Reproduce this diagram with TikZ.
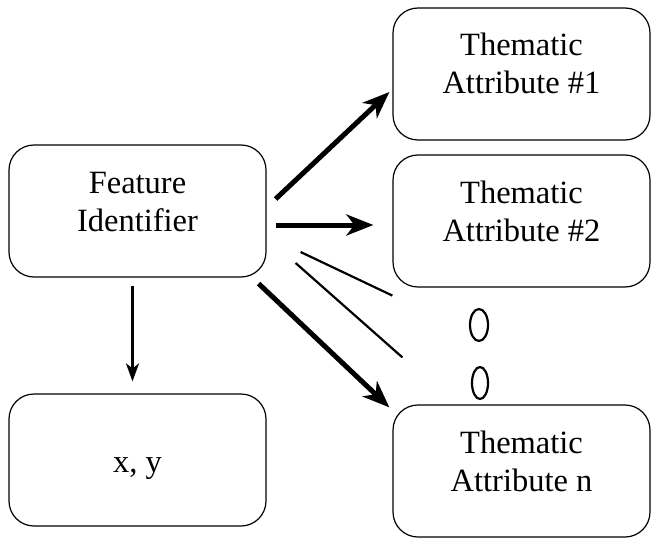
\documentclass[tikz,border=0pt]{standalone}
\usepackage{fontspec}
\setmainfont{Liberation Serif}
\usetikzlibrary{arrows.meta,shapes}
\tikzstyle{box}=[draw,rounded corners=25pt,minimum width=257pt,minimum height=132pt,inner sep=0pt,align=center,font=\fontsize{32.5}{38}\selectfont,line width=1.2pt,text height=60pt,text depth=20pt]
\tikzstyle{bigarrow}=[draw,line width=5pt,-{Stealth[length=27pt,width=21pt,inset=8pt]}]
\tikzstyle{link}=[draw,line width=2.2pt]
\tikzstyle{dot}=[draw,ellipse,line width=2.2pt,minimum width=16pt,minimum height=32pt,inner sep=0pt]

\begin{document}
\begin{tikzpicture}[x=1pt,y=-1pt]
    \useasboundingbox (0,0) rectangle (652,556);
    % First the boxes
    \foreach \pos/\name/\txt in {{(137.5,211)/fid/Feature\\Identifier}, {(521.5,74)/ta1/Thematic\\Attribute \#1}, {(521.5,221)/ta2/Thematic\\Attribute \#2}, {(521.5,471)/tan/Thematic\\Attribute n}}
        \node[box] (\name) at \pos {\txt};
    \node[box,text height=24pt,text depth=0pt] (xy) at (137.5,460) {x, y};

    % the two dots between #2 and n
    \node[dot,minimum width=18pt] (d1) at (479,325) {};
    \node[dot] (d2) at (480,383) {};

    % Then the arrows and lines
    \path[bigarrow] ([shift={(9,-12)}]fid.east) -- ([shift={(-3,18)}]ta1.west);
    \path[bigarrow] ([shift={(9,14)}]fid.east) -- ([shift={(-19,4)}]ta2.west);
    \path[link] ([shift={(34,41)}]fid.east) -- ([shift={(0,8)}]ta2.south west);
    \path[link] ([shift={(29,52)}]fid.east) -- ([shift={(10,-47)}]tan.north west);
    \path[bigarrow] ([shift={(-8,6)}]fid.south east) -- ([shift={(-3,3)}]tan.north west);
    \path[draw,line width=2.5pt,-{Stealth[length=18pt,width=13pt,inset=5pt]}] ([shift={(-5,8)}]fid.south) -- ([shift={(-5,-12)}]xy.north);
\end{tikzpicture}
\end{document}
